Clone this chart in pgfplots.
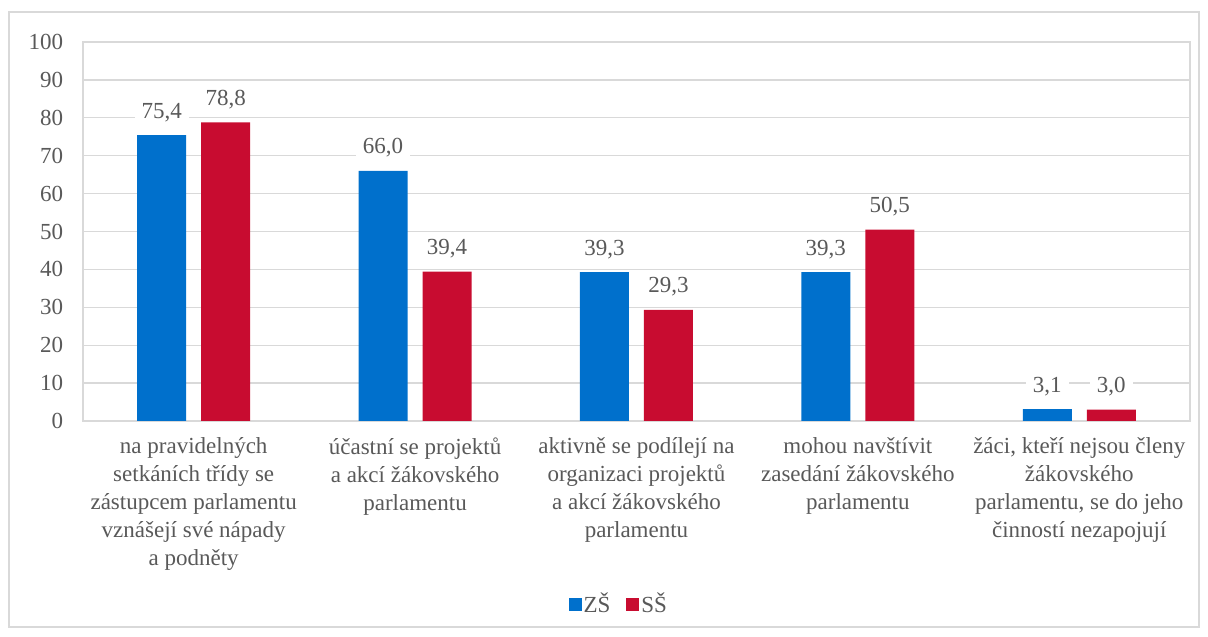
\documentclass[border=0pt]{standalone}
\usepackage{pgfplots}
\pgfplotsset{compat=1.18}
\usepackage{fontspec}
\setmainfont{Liberation Serif}
\definecolor{zsblue}{RGB}{0,112,204}
\definecolor{ssred}{RGB}{200,12,48}
\definecolor{gridgray}{RGB}{217,217,217}
\definecolor{txtgray}{RGB}{89,89,89}
\begin{document}
\begin{tikzpicture}[x=1pt,y=1pt]
\fontsize{23}{28}\selectfont
\path[use as bounding box] (0,0) rectangle (1208,637);
\draw[gridgray,line width=1.3pt] (9,10) rectangle (1199,625);
\begin{axis}[
  at={(83pt,216pt)}, anchor=south west,
  scale only axis, width=1107pt, height=379pt,
  xmin=-0.5, xmax=4.5, ymin=0, ymax=100,
  ytick={0,10,...,100},
  xtick={0,1,2,3,4},
  xticklabels={
    {na pravidelných\\setkáních třídy se\\zástupcem parlamentu\\vznášejí své nápady\\a podněty},
    {účastní se projektů\\a akcí žákovského\\parlamentu},
    {aktivně se podílejí na\\organizaci projektů\\a akcí žákovského\\parlamentu},
    {mohou navštívit\\zasedání žákovského\\parlamentu},
    {žáci, kteří nejsou členy\\žákovského\\parlamentu, se do jeho\\činností nezapojují}},
  xticklabel style={align=center, font=\fontsize{23}{28}\selectfont, text=txtgray, anchor=north, yshift=-9pt},
  yticklabel style={font=\fontsize{23}{28}\selectfont, text=txtgray, xshift=-12pt},
  major tick length=0pt,
  ymajorgrids, grid style={gridgray, line width=1.3pt},
  axis line style={gridgray, line width=1.3pt},
  /pgf/number format/assume math mode=true,
  ybar, bar width=49pt,
  nodes near coords,
  nodes near coords style={font=\fontsize{23}{28}\selectfont, text=txtgray, fill=white, inner xsep=7pt, inner ysep=3pt, anchor=base, yshift=17pt,
    /pgf/number format/.cd, fixed, fixed zerofill, precision=1, use comma},
  legend style={at={(0.484,-0.483)}, anchor=center, draw=none, legend columns=2, font=\fontsize{23}{28}\selectfont, text=txtgray, /tikz/every even column/.append style={column sep=14pt}},
  legend image code/.code={\fill[#1] (0pt,-6.5pt) rectangle (13pt,6.5pt);},
  clip=false,
]
\addplot[fill=zsblue, draw=none, bar shift=-32pt] coordinates {(0,75.4) (1,66.0) (2,39.3) (3,39.3) (4,3.1)};
\addplot[fill=ssred, draw=none, bar shift=32pt] coordinates {(0,78.8) (1,39.4) (2,29.3) (3,50.5) (4,3.0)};
\legend{ZŠ, SŠ}
\end{axis}
\end{tikzpicture}
\end{document}
